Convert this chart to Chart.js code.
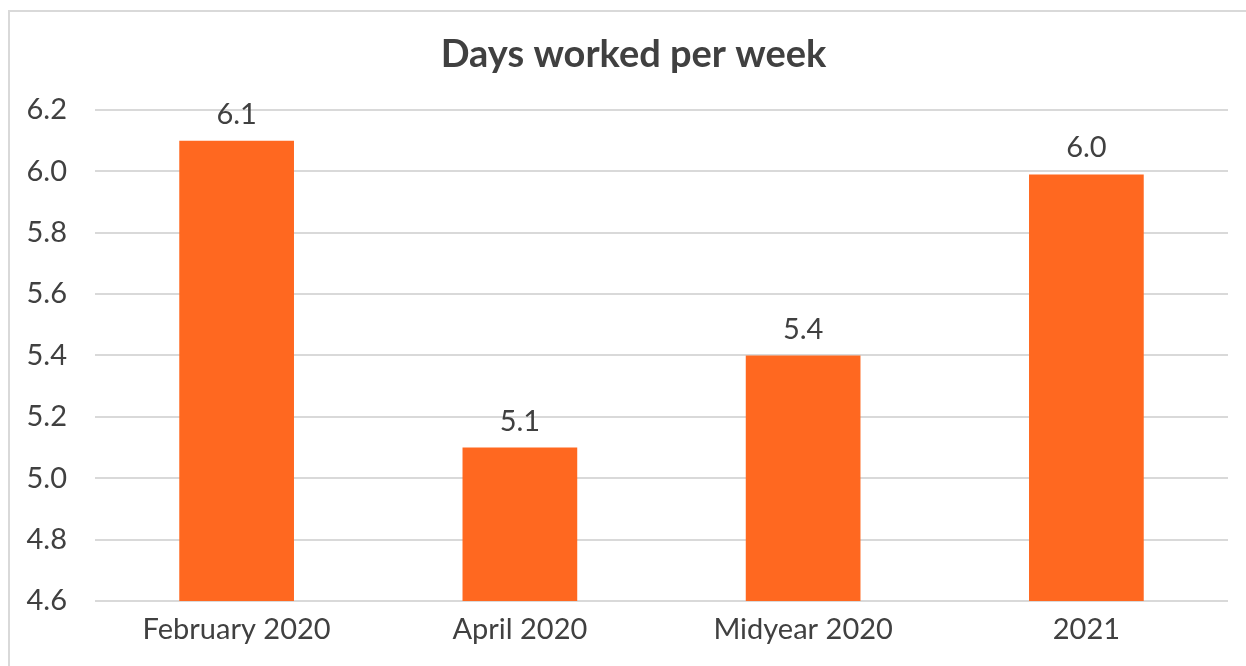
<!DOCTYPE html>
<html>
<head>
<meta charset="utf-8">
<script src="https://cdn.jsdelivr.net/npm/chart.js@4"></script>
<style>
    body { margin: 0; background: #fff; overflow: hidden; }
    #frame { position: absolute; left: 8px; top: 10px; width: 1300px; height: 700px;
             border-left: 2px solid #d9d9d9; border-top: 2px solid #d9d9d9; }
    #wrap { position: absolute; left: 0; top: 0; width: 1246px; height: 666px; }
</style>
</head>
<body>
<div id="frame"></div>
<div id="wrap"><canvas id="chart_canvas" width="1246" height="666"></canvas></div>
<script>
const categories = ["February 2020", "April 2020", "Midyear 2020", "2021"];
const daysWorked = [6.1, 5.1, 5.4, 5.99];
const yTicks = [4.6, 4.8, 5.0, 5.2, 5.4, 5.6, 5.8, 6.0, 6.2];
const chartTitle = 'Days worked per week';

const textColor = '#404040';
const fontName = 'Lato, "Open Sans", sans-serif';

// labels above bars + title (title sits a bit left of the plot centre)
const valueLabels = {
    id: 'valueLabels',
    afterDatasetsDraw(chart) {
        const { ctx, chartArea: { left, right, top } } = chart;
        const meta = chart.getDatasetMeta(0);
        ctx.save();
        ctx.font = '29px ' + fontName;
        ctx.fillStyle = textColor;
        ctx.textAlign = 'center';
        ctx.textBaseline = 'alphabetic';
        meta.data.forEach((bar, i) => {
            ctx.fillText(daysWorked[i].toFixed(1), bar.x, bar.y - 17);
        });
        ctx.font = 'bold 38px ' + fontName;
        ctx.textBaseline = 'middle';
        ctx.fillText(chartTitle, (left + right) / 2 - 28, top - 55);
        ctx.restore();
    }
};

const conf = {
    type: 'bar',
    data: {
        labels: categories,
        datasets: [{
            label: chartTitle,
            data: daysWorked,
            backgroundColor: '#FF6820',
            categoryPercentage: 1,
            barPercentage: 0.405
        }]
    },
    options: {
        responsive: false,
        animation: false,
        layout: { padding: { left: 0, right: 18, top: 110, bottom: 0 } },
        scales: {
            x: {
                grid: { display: false, drawTicks: false },
                border: { display: false },
                ticks: { color: textColor, font: { family: fontName, size: 29 }, padding: 11 },
                afterFit(scale) { scale.height = 65; }
            },
            y: {
                min: 4.6,
                max: 6.2,
                afterBuildTicks(scale) { scale.ticks = yTicks.map(v => ({ value: v })); },
                grid: { color: '#d9d9d9', lineWidth: 2, drawTicks: false },
                border: { display: false },
                ticks: {
                    color: textColor,
                    font: { family: fontName, size: 29 },
                    padding: 28,
                    callback: v => Number(v).toFixed(1)
                },
                afterFit(scale) { scale.width = 95; }
            }
        },
        plugins: {
            legend: { display: false },
            tooltip: { enabled: false },
            title: { display: false }
        }
    },
    plugins: [valueLabels]
};

new Chart(document.getElementById('chart_canvas'), conf);
</script>
</body>
</html>
